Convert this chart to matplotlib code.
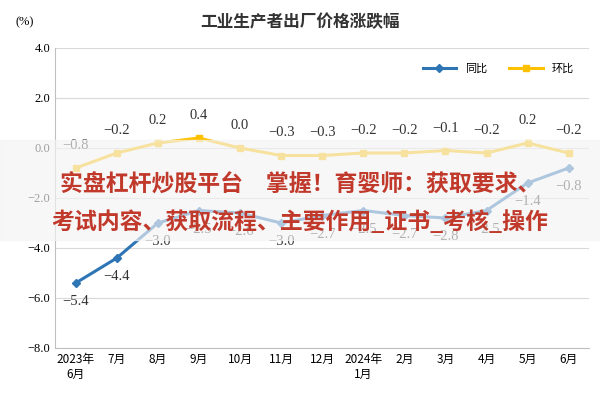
import matplotlib
matplotlib.use("Agg")
import matplotlib.pyplot as plt

months = ["2023年\n6月", "7月", "8月", "9月", "10月", "11月", "12月", "2024年\n1月", "2月", "3月", "4月", "5月", "6月"]
yoy = [-5.4, -4.4, -3.0, -2.5, -2.6, -3.0, -2.7, -2.5, -2.7, -2.8, -2.5, -1.4, -0.8]
mom = [-0.8, -0.2, 0.2, 0.4, 0.0, -0.3, -0.3, -0.2, -0.2, -0.1, -0.2, 0.2, -0.2]
yticks = [4.0, 2.0, 0.0, -2.0, -4.0, -6.0, -8.0]

cjk = "Noto Sans CJK SC"
fig = plt.figure(figsize=(6, 4), dpi=100)
ax = fig.add_axes([0.092, 0.13, 0.89, 0.75])
x = list(range(len(months)))
ax.plot(x, yoy, color="#2e75b6", lw=2.2, marker="D", ms=4, label="同比")
ax.plot(x, mom, color="#ffc000", lw=2.2, marker="s", ms=4, label="环比")
for i, v in enumerate(yoy):
    ax.text(i, v - 0.75, f"{v:.1f}".replace("-", "−"), ha="center", va="center",
            fontsize=10.5, family="Liberation Serif", color="#333333")
for i, v in enumerate(mom):
    ax.text(i, v + 0.9, f"{v:.1f}".replace("-", "−"), ha="center", va="center",
            fontsize=10.5, family="Liberation Serif", color="#333333")
ax.set_xlim(-0.5, len(months) - 0.5)
ax.set_ylim(-8, 4)
ax.set_yticks(yticks)
ax.set_yticklabels([f"{t:.1f}".replace("-", "−") for t in yticks], family="Liberation Serif", fontsize=9)
ax.set_xticks(x)
ax.set_xticklabels(months, family=cjk, fontsize=8.5)
ax.grid(axis="y", color="#d9d9d9", lw=0.8)
ax.tick_params(length=0)
for s in ["top", "right"]:
    ax.spines[s].set_visible(False)
for s in ["left", "bottom"]:
    ax.spines[s].set_color("#bfbfbf")
ax.legend(loc="upper right", bbox_to_anchor=(0.99, 0.98), ncol=2, frameon=False,
          prop={"family": cjk, "size": 8}, handlelength=3)
fig.text(0.5, 0.945, "工业生产者出厂价格涨跌幅", ha="center", va="center", family=cjk,
         fontsize=12, fontweight="bold", color="#333333")
fig.text(0.025, 0.945, "(%)", family="Liberation Serif", fontsize=9, va="center")

fig.patches.append(plt.Rectangle((0, 0.4), 1, 0.25, transform=fig.transFigure,
                                 color="#f4f4f4", alpha=0.65, zorder=5))
fig.text(0.5, 0.54, "实盘杠杆炒股平台　掌握！育婴师：获取要求、", ha="center", va="center",
         family=cjk, fontsize=16.5, fontweight="bold", color="#c0392b", zorder=6)
fig.text(0.5, 0.445, "考试内容、获取流程、主要作用_证书_考核_操作", ha="center", va="center",
         family=cjk, fontsize=16.5, fontweight="bold", color="#c0392b", zorder=6)
fig.savefig("out.png")
